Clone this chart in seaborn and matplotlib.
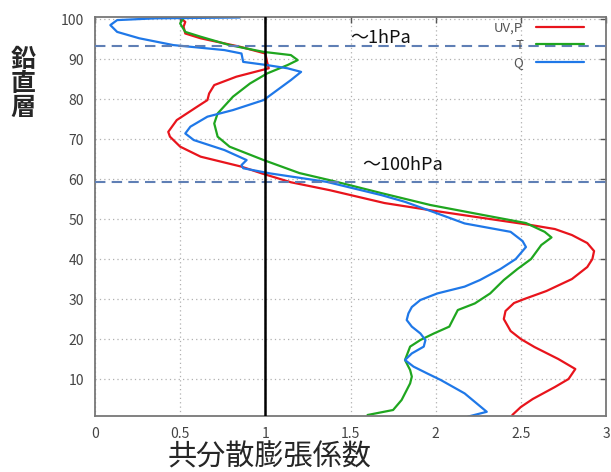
import matplotlib
matplotlib.use("Agg")
import matplotlib.pyplot as plt
import seaborn as sns
import pandas as pd

# ---- data: vertical level vs. covariance inflation factor ----
uvp_levels = [1, 3, 5, 8, 10, 12.5, 15, 18, 20, 22, 25, 27, 29, 30, 32, 35, 38, 40, 42, 44,
              46, 47.5, 48.5, 50, 52.2, 54, 57.2, 59.2, 61.4, 63.1, 65.6, 68.1, 70.6, 71.8,
              74.75, 78.1, 79.75, 81.4, 83.5, 85.6, 87.7, 89.3, 91.4, 93.1, 95.2, 96.4, 98.1,
              99.3, 100.3]
uvp_values = [2.45, 2.50, 2.57, 2.70, 2.78, 2.82, 2.72, 2.58, 2.50, 2.44, 2.40, 2.41, 2.46,
              2.52, 2.65, 2.80, 2.89, 2.92, 2.93, 2.89, 2.80, 2.70, 2.56, 2.32, 1.97, 1.70,
              1.38, 1.15, 0.98, 0.86, 0.62, 0.50, 0.44, 0.43, 0.48, 0.60, 0.66, 0.67, 0.70,
              0.83, 1.02, 1.01, 1.00, 0.85, 0.62, 0.53, 0.52, 0.53, 0.50]

t_levels = [1, 2.25, 4.75, 8.9, 10.6, 12.25, 14.75, 18.1, 19.75, 21.4, 23.1, 25.6, 27.25,
            28.9, 31.4, 34.75, 37.5, 40, 43.5, 45.4, 46.8, 49, 51, 53.5, 56.5, 59.5, 61.5,
            64.75, 68.1, 70.6, 73.9, 76.4, 80.6, 83.9, 86.4, 88.5, 89.75, 91, 91.8, 93.5,
            95.6, 96.8, 98.9, 100.3]
t_values = [1.60, 1.75, 1.80, 1.85, 1.86, 1.85, 1.82, 1.85, 1.91, 1.99, 2.08, 2.11, 2.13,
            2.23, 2.32, 2.40, 2.48, 2.56, 2.62, 2.68, 2.64, 2.53, 2.28, 1.97, 1.68, 1.40,
            1.20, 0.99, 0.79, 0.72, 0.70, 0.72, 0.81, 0.91, 1.01, 1.13, 1.19, 1.15, 0.99,
            0.79, 0.62, 0.53, 0.50, 0.52]

q_levels = [0.6, 1.8, 6.4, 9.75, 11.4, 13.1, 14.75, 16.4, 18.1, 19.75, 21.4, 23.1, 24.75,
            26.4, 28, 29.75, 31.4, 33.1, 34.75, 37.5, 40, 43, 44.5, 46.8, 48.9, 51.4, 54.3,
            56, 59.3, 61.4, 62.7, 63.5, 64.75, 67.25, 69.75, 71.4, 73.1, 75.6, 77.25, 79.75,
            82.25, 84.75, 86.8, 87.7, 88.5, 89.3, 91.4, 92.25, 93.5, 95.2, 96.8, 98.5,
            99.75, 100.2, 100.4]
q_values = [2.19, 2.30, 2.17, 2.03, 1.95, 1.87, 1.82, 1.86, 1.93, 1.94, 1.91, 1.86, 1.83,
            1.84, 1.86, 1.91, 2.01, 2.17, 2.26, 2.38, 2.47, 2.53, 2.51, 2.44, 2.17, 2.01,
            1.82, 1.68, 1.36, 1.03, 0.87, 0.86, 0.89, 0.76, 0.58, 0.53, 0.56, 0.66, 0.81,
            0.99, 1.07, 1.15, 1.21, 1.13, 1.01, 0.87, 0.86, 0.76, 0.46, 0.26, 0.13, 0.09,
            0.13, 0.36, 0.85]

series_names = ["UV,P", "T", "Q"]
series_colors = ["#e8141c", "#1fa61f", "#1f78e8"]

x_ticks = [0, 0.5, 1, 1.5, 2, 2.5, 3]
x_ticklabels = ["0", "0.5", "1", "1.5", "2", "2.5", "3"]
y_ticks = [10, 20, 30, 40, 50, 60, 70, 80, 90, 100]
ref_levels = [93.2, 59.2]
ref_labels = ["～1hPa", "～100hPa"]

frames = []
for name, lv, vals in [("UV,P", uvp_levels, uvp_values), ("T", t_levels, t_values),
                       ("Q", q_levels, q_values)]:
    frames.append(pd.DataFrame({"series": name, "level": lv, "factor": vals}))
df = pd.concat(frames, ignore_index=True)

sns.set_theme(style="white")
plt.rcParams["font.family"] = ["Noto Sans CJK JP", "DejaVu Sans"]

fig = plt.figure(figsize=(6.11, 4.72), dpi=100)
ax = fig.add_axes([95 / 611, 1 - 416 / 472, (606 - 95) / 611, (416 - 16.7) / 472])

for name, col in zip(series_names, series_colors):
    sub = df[df["series"] == name]
    sns.lineplot(data=sub, x="factor", y="level", sort=False, estimator=None,
                 color=col, linewidth=1.6, label=name, ax=ax)

ax.axvline(1, color="black", linewidth=1.8, zorder=5)
for lv in ref_levels:
    ax.axhline(lv, color="#5f7fb5", linewidth=1.5, linestyle=(0, (5, 3)), zorder=4,
               clip_on=False)

ax.set_xlim(0, 3)
ax.set_ylim(0.75, 100.6)
ax.set_xticks(x_ticks)
ax.set_xticklabels(x_ticklabels)
ax.set_yticks(y_ticks)
ax.grid(True, color="#b0b0b0", linestyle=(0, (1, 2.5)), linewidth=0.9)
ax.tick_params(direction="in", length=4, width=1, color="#555555", top=True, right=True,
               labelsize=10, labelcolor="#444444", pad=8)
for s in ax.spines.values():
    s.set_color("#777777")
    s.set_linewidth(1.3)
ax.set_xlabel("")
ax.set_ylabel("")

ax.text(1.5, 95.3, ref_labels[0], fontsize=13, color="#111111", ha="left", va="center")
ax.text(1.57, 63.5, ref_labels[1], fontsize=13, color="#111111", ha="left", va="center")

leg = ax.legend(loc="upper right", bbox_to_anchor=(0.975, 1.012), markerfirst=False,
                frameon=False, fontsize=9.5, handlelength=3.6, handletextpad=1.0,
                labelspacing=0.35, borderaxespad=0.3)
for t in leg.get_texts():
    t.set_color("#555555")

fig.text(23 / 611, 1 - 84 / 472, "鉛\n直\n層", fontsize=18, fontweight="bold",
         ha="center", va="center", linespacing=1.0)
fig.text(270 / 611, 1 - 457 / 472, "共分散膨張係数", fontsize=21, ha="center",
         va="center")

fig.savefig("out.png", dpi=100)
